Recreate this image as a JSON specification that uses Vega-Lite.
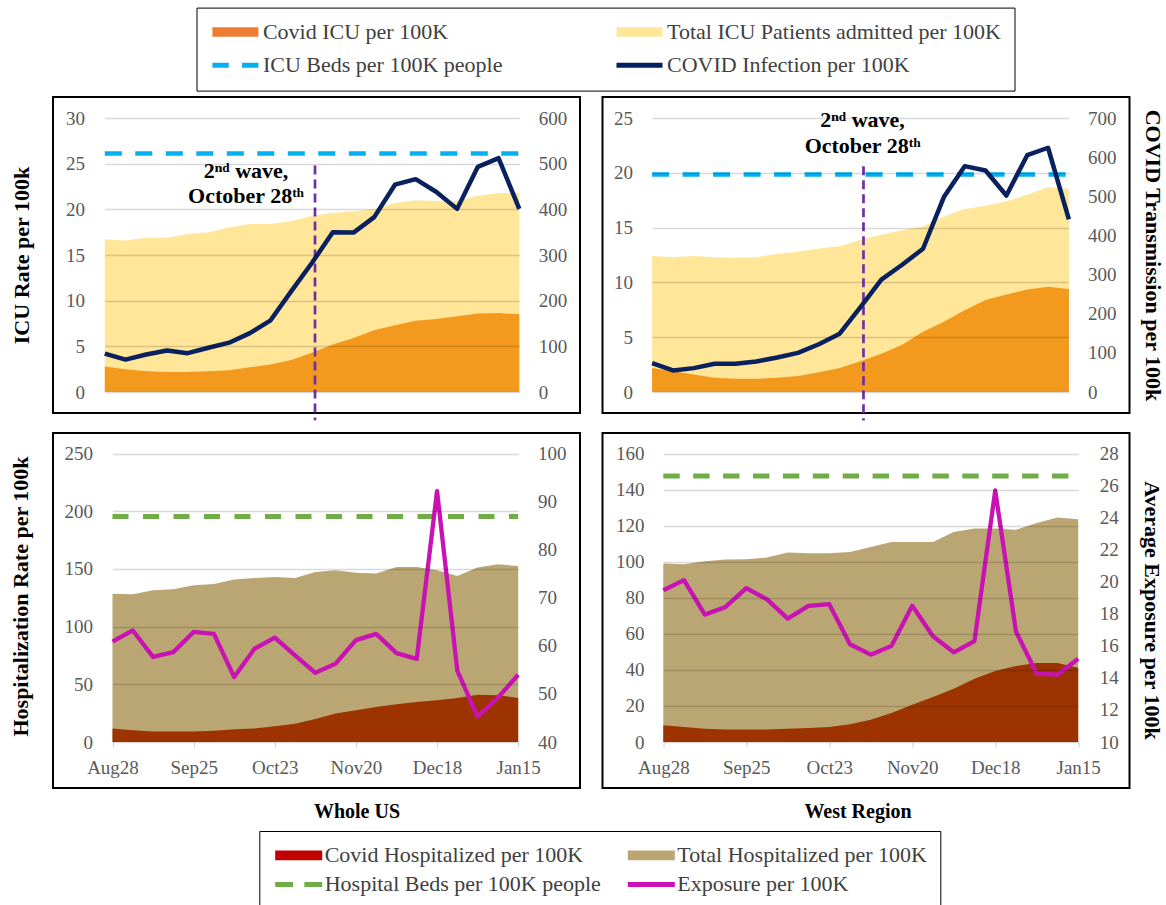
{
  "$schema": "https://vega.github.io/schema/vega-lite/v6.json",
  "padding": {"left": 8, "top": 6, "right": 0, "bottom": -5},
  "datasets": {
    "d": [
      {"date": "2020-08-28T00:00:00", "us_icu_covid": 2.8, "us_icu_total": 16.7, "us_icu_beds": 26.1, "us_infection": 84, "west_icu_covid": 2.2, "west_icu_total": 12.4, "west_icu_beds": 19.85, "west_infection": 74, "us_hosp_covid": 11.6, "us_hosp_total": 128.6, "us_hosp_beds": 195.5, "us_exposure": 60.9, "west_hosp_covid": 9.25, "west_hosp_total": 99.0, "west_hosp_beds": 147.6, "west_exposure": 19.47},
      {"date": "2020-09-04T00:00:00", "us_icu_covid": 2.5, "us_icu_total": 16.6, "us_icu_beds": 26.1, "us_infection": 71, "west_icu_covid": 1.9, "west_icu_total": 12.3, "west_icu_beds": 19.85, "west_infection": 55, "us_hosp_covid": 10.1, "us_hosp_total": 128.0, "us_hosp_beds": 195.5, "us_exposure": 63.2, "west_hosp_covid": 8.3, "west_hosp_total": 98.6, "west_hosp_beds": 147.6, "west_exposure": 20.1},
      {"date": "2020-09-11T00:00:00", "us_icu_covid": 2.26, "us_icu_total": 16.9, "us_icu_beds": 26.1, "us_infection": 82, "west_icu_covid": 1.6, "west_icu_total": 12.4, "west_icu_beds": 19.85, "west_infection": 61, "us_hosp_covid": 9.2, "us_hosp_total": 131.5, "us_hosp_beds": 195.5, "us_exposure": 57.7, "west_hosp_covid": 7.4, "west_hosp_total": 100.3, "west_hosp_beds": 147.6, "west_exposure": 17.95},
      {"date": "2020-09-18T00:00:00", "us_icu_covid": 2.2, "us_icu_total": 16.9, "us_icu_beds": 26.1, "us_infection": 91, "west_icu_covid": 1.3, "west_icu_total": 12.3, "west_icu_beds": 19.85, "west_infection": 72, "us_hosp_covid": 9.2, "us_hosp_total": 132.4, "us_hosp_beds": 195.5, "us_exposure": 58.7, "west_hosp_covid": 7.0, "west_hosp_total": 101.2, "west_hosp_beds": 147.6, "west_exposure": 18.43},
      {"date": "2020-09-25T00:00:00", "us_icu_covid": 2.2, "us_icu_total": 17.3, "us_icu_beds": 26.1, "us_infection": 85, "west_icu_covid": 1.2, "west_icu_total": 12.25, "west_icu_beds": 19.85, "west_infection": 72, "us_hosp_covid": 9.2, "us_hosp_total": 135.8, "us_hosp_beds": 195.5, "us_exposure": 62.9, "west_hosp_covid": 7.0, "west_hosp_total": 101.4, "west_hosp_beds": 147.6, "west_exposure": 19.6},
      {"date": "2020-10-02T00:00:00", "us_icu_covid": 2.26, "us_icu_total": 17.5, "us_icu_beds": 26.1, "us_infection": 97, "west_icu_covid": 1.2, "west_icu_total": 12.3, "west_icu_beds": 19.85, "west_infection": 78, "us_hosp_covid": 9.8, "us_hosp_total": 137.0, "us_hosp_beds": 195.5, "us_exposure": 62.5, "west_hosp_covid": 7.0, "west_hosp_total": 102.3, "west_hosp_beds": 147.6, "west_exposure": 18.9},
      {"date": "2020-10-09T00:00:00", "us_icu_covid": 2.37, "us_icu_total": 18.0, "us_icu_beds": 26.1, "us_infection": 108, "west_icu_covid": 1.3, "west_icu_total": 12.6, "west_icu_beds": 19.85, "west_infection": 88, "us_hosp_covid": 11.0, "us_hosp_total": 140.8, "us_hosp_beds": 195.5, "us_exposure": 53.5, "west_hosp_covid": 7.4, "west_hosp_total": 105.1, "west_hosp_beds": 147.6, "west_exposure": 17.7},
      {"date": "2020-10-16T00:00:00", "us_icu_covid": 2.7, "us_icu_total": 18.4, "us_icu_beds": 26.1, "us_infection": 129, "west_icu_covid": 1.45, "west_icu_total": 12.8, "west_icu_beds": 19.85, "west_infection": 100, "us_hosp_covid": 11.8, "us_hosp_total": 142.2, "us_hosp_beds": 195.5, "us_exposure": 59.4, "west_hosp_covid": 7.8, "west_hosp_total": 104.7, "west_hosp_beds": 147.6, "west_exposure": 18.5},
      {"date": "2020-10-23T00:00:00", "us_icu_covid": 3.0, "us_icu_total": 18.4, "us_icu_beds": 26.1, "us_infection": 157, "west_icu_covid": 1.8, "west_icu_total": 13.1, "west_icu_beds": 19.85, "west_infection": 122, "us_hosp_covid": 13.6, "us_hosp_total": 143.0, "us_hosp_beds": 195.5, "us_exposure": 61.7, "west_hosp_covid": 8.3, "west_hosp_total": 104.7, "west_hosp_beds": 147.6, "west_exposure": 18.6},
      {"date": "2020-10-30T00:00:00", "us_icu_covid": 3.5, "us_icu_total": 18.7, "us_icu_beds": 26.1, "us_infection": 221, "west_icu_covid": 2.2, "west_icu_total": 13.3, "west_icu_beds": 19.85, "west_infection": 149, "us_hosp_covid": 15.9, "us_hosp_total": 142.2, "us_hosp_beds": 195.5, "us_exposure": 58.0, "west_hosp_covid": 9.8, "west_hosp_total": 105.4, "west_hosp_beds": 147.6, "west_exposure": 16.1},
      {"date": "2020-11-06T00:00:00", "us_icu_covid": 4.3, "us_icu_total": 19.3, "us_icu_beds": 26.1, "us_infection": 283, "west_icu_covid": 2.8, "west_icu_total": 13.9, "west_icu_beds": 19.85, "west_infection": 217, "us_hosp_covid": 19.9, "us_hosp_total": 147.4, "us_hosp_beds": 195.5, "us_exposure": 54.4, "west_hosp_covid": 12.4, "west_hosp_total": 108.2, "west_hosp_beds": 147.6, "west_exposure": 15.45},
      {"date": "2020-11-13T00:00:00", "us_icu_covid": 5.2, "us_icu_total": 19.6, "us_icu_beds": 26.1, "us_infection": 350, "west_icu_covid": 3.5, "west_icu_total": 14.35, "west_icu_beds": 19.85, "west_infection": 287, "us_hosp_covid": 24.6, "us_hosp_total": 148.8, "us_hosp_beds": 195.5, "us_exposure": 56.3, "west_hosp_covid": 16.1, "west_hosp_total": 111.0, "west_hosp_beds": 147.6, "west_exposure": 16.0},
      {"date": "2020-11-20T00:00:00", "us_icu_covid": 5.9, "us_icu_total": 19.8, "us_icu_beds": 26.1, "us_infection": 349, "west_icu_covid": 4.3, "west_icu_total": 14.75, "west_icu_beds": 19.85, "west_infection": 325, "us_hosp_covid": 27.5, "us_hosp_total": 146.8, "us_hosp_beds": 195.5, "us_exposure": 61.2, "west_hosp_covid": 20.7, "west_hosp_total": 111.0, "west_hosp_beds": 147.6, "west_exposure": 18.5},
      {"date": "2020-11-27T00:00:00", "us_icu_covid": 6.75, "us_icu_total": 20.0, "us_icu_beds": 26.1, "us_infection": 383, "west_icu_covid": 5.5, "west_icu_total": 15.1, "west_icu_beds": 19.85, "west_infection": 366, "us_hosp_covid": 30.3, "us_hosp_total": 146.0, "us_hosp_beds": 195.5, "us_exposure": 62.5, "west_hosp_covid": 25.0, "west_hosp_total": 111.0, "west_hosp_beds": 147.6, "west_exposure": 16.6},
      {"date": "2020-12-04T00:00:00", "us_icu_covid": 7.3, "us_icu_total": 20.7, "us_icu_beds": 26.1, "us_infection": 454, "west_icu_covid": 6.4, "west_icu_total": 16.0, "west_icu_beds": 19.85, "west_infection": 498, "us_hosp_covid": 32.7, "us_hosp_total": 151.7, "us_hosp_beds": 195.5, "us_exposure": 58.5, "west_hosp_covid": 29.6, "west_hosp_total": 116.5, "west_hosp_beds": 147.6, "west_exposure": 15.6},
      {"date": "2020-12-11T00:00:00", "us_icu_covid": 7.8, "us_icu_total": 21.0, "us_icu_beds": 26.1, "us_infection": 466, "west_icu_covid": 7.45, "west_icu_total": 16.7, "west_icu_beds": 19.85, "west_infection": 577, "us_hosp_covid": 34.7, "us_hosp_total": 151.7, "us_hosp_beds": 195.5, "us_exposure": 57.3, "west_hosp_covid": 35.1, "west_hosp_total": 118.4, "west_hosp_beds": 147.6, "west_exposure": 16.3},
      {"date": "2020-12-18T00:00:00", "us_icu_covid": 8.0, "us_icu_total": 20.9, "us_icu_beds": 26.1, "us_infection": 438, "west_icu_covid": 8.4, "west_icu_total": 17.0, "west_icu_beds": 19.85, "west_infection": 566, "us_hosp_covid": 36.1, "us_hosp_total": 148.8, "us_hosp_beds": 195.5, "us_exposure": 92.2, "west_hosp_covid": 39.4, "west_hosp_total": 118.4, "west_hosp_beds": 147.6, "west_exposure": 25.7},
      {"date": "2020-12-25T00:00:00", "us_icu_covid": 8.3, "us_icu_total": 20.9, "us_icu_beds": 26.1, "us_infection": 401, "west_icu_covid": 8.9, "west_icu_total": 17.4, "west_icu_beds": 19.85, "west_infection": 502, "us_hosp_covid": 38.2, "us_hosp_total": 143.9, "us_hosp_beds": 195.5, "us_exposure": 54.8, "west_hosp_covid": 42.2, "west_hosp_total": 117.8, "west_hosp_beds": 147.6, "west_exposure": 16.9},
      {"date": "2021-01-01T00:00:00", "us_icu_covid": 8.6, "us_icu_total": 21.5, "us_icu_beds": 26.1, "us_infection": 493, "west_icu_covid": 9.35, "west_icu_total": 18.0, "west_icu_beds": 19.85, "west_infection": 605, "us_hosp_covid": 41.0, "us_hosp_total": 151.2, "us_hosp_beds": 195.5, "us_exposure": 45.3, "west_hosp_covid": 43.8, "west_hosp_total": 121.5, "west_hosp_beds": 147.6, "west_exposure": 14.27},
      {"date": "2021-01-08T00:00:00", "us_icu_covid": 8.65, "us_icu_total": 21.8, "us_icu_beds": 26.1, "us_infection": 512, "west_icu_covid": 9.6, "west_icu_total": 18.7, "west_icu_beds": 19.85, "west_infection": 624, "us_hosp_covid": 40.5, "us_hosp_total": 154.0, "us_hosp_beds": 195.5, "us_exposure": 49.2, "west_hosp_covid": 43.8, "west_hosp_total": 124.5, "west_hosp_beds": 147.6, "west_exposure": 14.2},
      {"date": "2021-01-15T00:00:00", "us_icu_covid": 8.5, "us_icu_total": 21.8, "us_icu_beds": 26.1, "us_infection": 401, "west_icu_covid": 9.4, "west_icu_total": 18.55, "west_icu_beds": 19.85, "west_infection": 441, "us_hosp_covid": 38.2, "us_hosp_total": 152.6, "us_hosp_beds": 195.5, "us_exposure": 54.0, "west_hosp_covid": 41.2, "west_hosp_total": 123.6, "west_hosp_beds": 147.6, "west_exposure": 15.2}
    ]
  },
  "columns": 2,
  "spacing": {"row": 20, "column": 22.5},
  "bounds": "flush",
  "resolve": {"scale": {"color": "independent", "shape": "independent"}},
  "concat": [
    {
      "width": 527, "height": 316,
      "data": {"name": "d"},
      "layer": [
        {"mark": {"type": "area", "opacity": 1, "color": "#FFE699"},
         "encoding": {
           "x": {"field": "date", "type": "temporal", "scale": {"domain": [{"year": 2020, "month": 8, "date": 28}, {"year": 2021, "month": 1, "date": 15}], "range": [51.8, 466.3], "nice": false}, "axis": null},
           "y": {"field": "us_icu_total", "type": "quantitative", "scale": {"domain": [0, 30], "range": [295, 21], "nice": false},
                 "axis": {"orient": "left", "values": [0, 5, 10, 15, 20, 25, 30], "grid": true, "gridColor": "#000000", "gridOpacity": 0.15, "gridWidth": 1.3, "zindex": 1, "offset": -31.5, "title": "ICU  Rate per 100k", "titleAngle": 270, "titleX": -63, "titleY": 158, "titleAlign": "center", "titleBaseline": "middle"}}
         }},
        {"mark": {"type": "area", "opacity": 1, "color": "#F39A1E"},
         "encoding": {
           "x": {"field": "date", "type": "temporal", "scale": {"domain": [{"year": 2020, "month": 8, "date": 28}, {"year": 2021, "month": 1, "date": 15}], "range": [51.8, 466.3], "nice": false}, "axis": null},
           "y": {"field": "us_icu_covid", "type": "quantitative", "scale": {"domain": [0, 30], "range": [295, 21], "nice": false}, "axis": null}
         }},
        {"mark": {"type": "line", "strokeWidth": 4.5, "strokeDash": [17, 13.5], "color": "#00B0F0"},
         "encoding": {
           "x": {"field": "date", "type": "temporal", "scale": {"domain": [{"year": 2020, "month": 8, "date": 28}, {"year": 2021, "month": 1, "date": 15}], "range": [51.8, 466.3], "nice": false}, "axis": null},
           "y": {"field": "us_icu_beds", "type": "quantitative", "scale": {"domain": [0, 30], "range": [295, 21], "nice": false}, "axis": null}
         }},
        {"data": {"values": [{"event": "2nd wave"}]},
         "mark": {"type": "rule", "color": "#7030A0", "strokeWidth": 2.7, "strokeDash": [9, 5]},
         "encoding": {
           "x": {"datum": {"year": 2020, "month": 11, "date": 7}, "type": "temporal", "scale": {"domain": [{"year": 2020, "month": 8, "date": 28}, {"year": 2021, "month": 1, "date": 15}], "range": [51.8, 466.3], "nice": false}, "axis": null},
           "y": {"datum": 24.8, "type": "quantitative", "scale": {"domain": [0, 30], "range": [295, 21], "nice": false}, "axis": null},
           "y2": {"datum": -3.1}
         }},
        {"data": {"values": [{"label": "2ⁿᵈ wave,\nOctober 28ᵗʰ"}]},
         "mark": {"type": "text", "font": "Liberation Serif", "fontSize": 22, "fontWeight": "bold", "color": "black", "align": "center", "baseline": "middle", "lineBreak": "\n", "lineHeight": 24.5},
         "encoding": {
           "x": {"datum": {"year": 2020, "month": 10, "date": 14, "hours": 17}, "type": "temporal", "scale": {"domain": [{"year": 2020, "month": 8, "date": 28}, {"year": 2021, "month": 1, "date": 15}], "range": [51.8, 466.3], "nice": false}, "axis": null},
           "y": {"datum": 24.17, "type": "quantitative", "scale": {"domain": [0, 30], "range": [295, 21], "nice": false}, "axis": null},
           "text": {"field": "label", "type": "nominal"}
         }},
        {"mark": {"type": "line", "strokeWidth": 4.5, "strokeJoin": "round", "color": "#0A2160"},
         "encoding": {
           "x": {"field": "date", "type": "temporal", "scale": {"domain": [{"year": 2020, "month": 8, "date": 28}, {"year": 2021, "month": 1, "date": 15}], "range": [51.8, 466.3], "nice": false}, "axis": null},
           "y": {"field": "us_infection", "type": "quantitative", "scale": {"domain": [0, 600], "range": [295, 21], "nice": false},
                 "axis": {"orient": "right", "values": [0, 100, 200, 300, 400, 500, 600], "offset": -41.8, "title": null}}
         }},
        {"data": {"values": []},
         "mark": {"type": "point", "filled": false, "strokeWidth": 5},
         "encoding": {
           "color": {"field": "series", "type": "nominal",
                     "scale": {"domain": ["Covid ICU per 100K", "Total ICU Patients admitted per 100K", "ICU Beds per 100K people", "COVID Infection per 100K"], "range": ["#ED7D31", "#FFE699", "#00B0F0", "#002060"]},
                     "legend": {
                       "title": null, "orient": "none", "legendX": 143.5, "legendY": -89.4, "direction": "horizontal",
                       "columns": 2, "columnPadding": 111.1, "rowPadding": 11.3, "padding": 13.4,
                       "strokeColor": "black",
                       "symbolSize": 2116, "symbolStrokeWidth": 5, "symbolOffset": 0, "symbolOpacity": 1, "symbolFillColor": "transparent", "clipHeight": 22,
                       "labelFont": "Liberation Serif", "labelFontSize": 22, "labelColor": "#404040", "labelOffset": 2, "labelLimit": 800,
                       "encode": {"legend": {"strokeWidth": {"value": 2.5}}}
                     }},
           "shape": {"field": "series", "type": "nominal",
                     "scale": {"domain": ["Covid ICU per 100K", "Total ICU Patients admitted per 100K", "ICU Beds per 100K people", "COVID Infection per 100K"],
                               "range": ["M-1,-0.1H1M-1,0H1M-1,0.1H1", "M-1,-0.1H1M-1,0H1M-1,0.1H1", "M-1,0H-0.29M0.29,0H1", "M-1,0H1"]}}
         }}
      ],
      "resolve": {"scale": {"y": "independent"}}
    },
    {
      "width": 527, "height": 316,
      "data": {"name": "d"},
      "layer": [
        {"mark": {"type": "area", "opacity": 1, "color": "#FFE699"},
         "encoding": {
           "x": {"field": "date", "type": "temporal", "scale": {"domain": [{"year": 2020, "month": 8, "date": 28}, {"year": 2021, "month": 1, "date": 15}], "range": [49.6, 466.4], "nice": false}, "axis": null},
           "y": {"field": "west_icu_total", "type": "quantitative", "scale": {"domain": [0, 25], "range": [295, 21], "nice": false},
                 "axis": {"orient": "left", "values": [0, 5, 10, 15, 20, 25], "grid": true, "gridColor": "#000000", "gridOpacity": 0.15, "gridWidth": 1.3, "zindex": 1, "offset": -30, "title": null}}
         }},
        {"mark": {"type": "area", "opacity": 1, "color": "#F39A1E"},
         "encoding": {
           "x": {"field": "date", "type": "temporal", "scale": {"domain": [{"year": 2020, "month": 8, "date": 28}, {"year": 2021, "month": 1, "date": 15}], "range": [49.6, 466.4], "nice": false}, "axis": null},
           "y": {"field": "west_icu_covid", "type": "quantitative", "scale": {"domain": [0, 25], "range": [295, 21], "nice": false}, "axis": null}
         }},
        {"mark": {"type": "line", "strokeWidth": 4.5, "strokeDash": [17, 13.5], "color": "#00B0F0"},
         "encoding": {
           "x": {"field": "date", "type": "temporal", "scale": {"domain": [{"year": 2020, "month": 8, "date": 28}, {"year": 2021, "month": 1, "date": 15}], "range": [49.6, 466.4], "nice": false}, "axis": null},
           "y": {"field": "west_icu_beds", "type": "quantitative", "scale": {"domain": [0, 25], "range": [295, 21], "nice": false}, "axis": null}
         }},
        {"data": {"values": [{"event": "2nd wave"}]},
         "mark": {"type": "rule", "color": "#7030A0", "strokeWidth": 2.7, "strokeDash": [9, 5]},
         "encoding": {
           "x": {"datum": {"year": 2020, "month": 11, "date": 7}, "type": "temporal", "scale": {"domain": [{"year": 2020, "month": 8, "date": 28}, {"year": 2021, "month": 1, "date": 15}], "range": [49.6, 466.4], "nice": false}, "axis": null},
           "y": {"datum": 20.6, "type": "quantitative", "scale": {"domain": [0, 25], "range": [295, 21], "nice": false}, "axis": null},
           "y2": {"datum": -2.6}
         }},
        {"data": {"values": [{"label": "2ⁿᵈ wave,\nOctober 28ᵗʰ"}]},
         "mark": {"type": "text", "font": "Liberation Serif", "fontSize": 22, "fontWeight": "bold", "color": "black", "align": "center", "baseline": "middle", "lineBreak": "\n", "lineHeight": 26},
         "encoding": {
           "x": {"datum": {"year": 2020, "month": 11, "date": 6, "hours": 17}, "type": "temporal", "scale": {"domain": [{"year": 2020, "month": 8, "date": 28}, {"year": 2021, "month": 1, "date": 15}], "range": [49.6, 466.4], "nice": false}, "axis": null},
           "y": {"datum": 24.79, "type": "quantitative", "scale": {"domain": [0, 25], "range": [295, 21], "nice": false}, "axis": null},
           "text": {"field": "label", "type": "nominal"}
         }},
        {"mark": {"type": "line", "strokeWidth": 4.5, "strokeJoin": "round", "color": "#0A2160"},
         "encoding": {
           "x": {"field": "date", "type": "temporal", "scale": {"domain": [{"year": 2020, "month": 8, "date": 28}, {"year": 2021, "month": 1, "date": 15}], "range": [49.6, 466.4], "nice": false}, "axis": null},
           "y": {"field": "west_infection", "type": "quantitative", "scale": {"domain": [0, 700], "range": [295, 21], "nice": false},
                 "axis": {"orient": "right", "values": [0, 100, 200, 300, 400, 500, 600, 700], "offset": -42, "title": "COVID Transmission per 100k", "titleAngle": 90, "titleX": 65, "titleY": 158, "titleAlign": "center", "titleBaseline": "middle"}}
         }}
      ],
      "resolve": {"scale": {"y": "independent"}}
    },
    {
      "width": 527, "height": 355,
      "data": {"name": "d"},
      "layer": [
        {"mark": {"type": "area", "opacity": 1, "color": "#B9A673"},
         "encoding": {
           "x": {"field": "date", "type": "temporal", "scale": {"domain": [{"year": 2020, "month": 8, "date": 28}, {"year": 2021, "month": 1, "date": 15}], "range": [59.5, 465.2], "nice": false},
                 "axis": {"orient": "bottom", "values": [{"year": 2020, "month": 8, "date": 28}, {"year": 2020, "month": 9, "date": 25}, {"year": 2020, "month": 10, "date": 23}, {"year": 2020, "month": 11, "date": 20}, {"year": 2020, "month": 12, "date": 18}, {"year": 2021, "month": 1, "date": 15}], "format": "%b%d", "offset": -46, "ticks": true, "tickSize": 5, "tickColor": "#D9D9D9", "tickWidth": 1.3, "labelPadding": 20, "labelBaseline": "middle", "labelFlush": false, "labelOverlap": false, "title": "Whole US", "titleX": 303.5, "titleY": 69, "titleAngle": 0, "titleFontSize": 20, "titleAlign": "center", "titleBaseline": "middle"}},
           "y": {"field": "us_hosp_total", "type": "quantitative", "scale": {"domain": [0, 250], "range": [309, 20.6], "nice": false},
                 "axis": {"orient": "left", "values": [0, 50, 100, 150, 200, 250], "grid": true, "gridColor": "#000000", "gridOpacity": 0.15, "gridWidth": 1.3, "zindex": 1, "offset": -39.5, "title": "Hospitalization Rate per 100k", "titleAngle": 270, "titleX": -72.5, "titleY": 163, "titleAlign": "center", "titleBaseline": "middle"}}
         }},
        {"mark": {"type": "area", "opacity": 1, "color": "#9C3300"},
         "encoding": {
           "x": {"field": "date", "type": "temporal", "scale": {"domain": [{"year": 2020, "month": 8, "date": 28}, {"year": 2021, "month": 1, "date": 15}], "range": [59.5, 465.2], "nice": false}},
           "y": {"field": "us_hosp_covid", "type": "quantitative", "scale": {"domain": [0, 250], "range": [309, 20.6], "nice": false}, "axis": null}
         }},
        {"mark": {"type": "line", "strokeWidth": 5, "strokeDash": [16, 14.5], "color": "#70AD47"},
         "encoding": {
           "x": {"field": "date", "type": "temporal", "scale": {"domain": [{"year": 2020, "month": 8, "date": 28}, {"year": 2021, "month": 1, "date": 15}], "range": [59.5, 465.2], "nice": false}},
           "y": {"field": "us_hosp_beds", "type": "quantitative", "scale": {"domain": [0, 250], "range": [309, 20.6], "nice": false}, "axis": null}
         }},
        {"mark": {"type": "line", "strokeWidth": 4.3, "strokeJoin": "round", "color": "#C912B3"},
         "encoding": {
           "x": {"field": "date", "type": "temporal", "scale": {"domain": [{"year": 2020, "month": 8, "date": 28}, {"year": 2021, "month": 1, "date": 15}], "range": [59.5, 465.2], "nice": false}},
           "y": {"field": "us_exposure", "type": "quantitative", "scale": {"domain": [40, 100], "range": [309, 20.6], "nice": false},
                 "axis": {"orient": "right", "values": [40, 50, 60, 70, 80, 90, 100], "offset": -42.5, "title": null}}
         }},
        {"data": {"values": []},
         "mark": {"type": "point", "filled": false, "strokeWidth": 5},
         "encoding": {
           "color": {"field": "series", "type": "nominal",
                     "scale": {"domain": ["Covid Hospitalized per 100K", "Total Hospitalized per 100K", "Hospital Beds per 100K people", "Exposure per 100K"], "range": ["#C00000", "#BBA673", "#70AD47", "#CC10BB"]},
                     "legend": {
                       "title": null, "orient": "none", "legendX": 206.3, "legendY": 398, "direction": "horizontal",
                       "columns": 2, "columnPadding": 23.6, "rowPadding": 7, "padding": 13.4,
                       "strokeColor": "black",
                       "symbolSize": 2209, "symbolStrokeWidth": 5, "symbolOffset": 0, "symbolOpacity": 1, "symbolFillColor": "transparent", "clipHeight": 22,
                       "labelFont": "Liberation Serif", "labelFontSize": 22, "labelColor": "#404040", "labelOffset": 0, "labelLimit": 800,
                       "encode": {"legend": {"strokeWidth": {"value": 2}}}
                     }},
           "shape": {"field": "series", "type": "nominal",
                     "scale": {"domain": ["Covid Hospitalized per 100K", "Total Hospitalized per 100K", "Hospital Beds per 100K people", "Exposure per 100K"],
                               "range": ["M-1,-0.1H1M-1,0H1M-1,0.1H1", "M-1,-0.1H1M-1,0H1M-1,0.1H1", "M-1,0H-0.24M0.24,0H1", "M-1,0H1"]}}
         }}
      ],
      "resolve": {"scale": {"y": "independent"}}
    },
    {
      "width": 527, "height": 355,
      "data": {"name": "d"},
      "layer": [
        {"mark": {"type": "area", "opacity": 1, "color": "#B9A673"},
         "encoding": {
           "x": {"field": "date", "type": "temporal", "scale": {"domain": [{"year": 2020, "month": 8, "date": 28}, {"year": 2021, "month": 1, "date": 15}], "range": [60.8, 475.7], "nice": false},
                 "axis": {"orient": "bottom", "values": [{"year": 2020, "month": 8, "date": 28}, {"year": 2020, "month": 9, "date": 25}, {"year": 2020, "month": 10, "date": 23}, {"year": 2020, "month": 11, "date": 20}, {"year": 2020, "month": 12, "date": 18}, {"year": 2021, "month": 1, "date": 15}], "format": "%b%d", "offset": -46, "ticks": true, "tickSize": 5, "tickColor": "#D9D9D9", "tickWidth": 1.3, "labelPadding": 20, "labelBaseline": "middle", "labelFlush": false, "labelOverlap": false, "title": "West Region", "titleX": 255, "titleY": 69, "titleAngle": 0, "titleFontSize": 20, "titleAlign": "center", "titleBaseline": "middle"}},
           "y": {"field": "west_hosp_total", "type": "quantitative", "scale": {"domain": [0, 160], "range": [309, 20.6], "nice": false},
                 "axis": {"orient": "left", "values": [0, 20, 40, 60, 80, 100, 120, 140, 160], "grid": true, "gridColor": "#000000", "gridOpacity": 0.15, "gridWidth": 1.3, "zindex": 1, "offset": -41.5, "title": null}}
         }},
        {"mark": {"type": "area", "opacity": 1, "color": "#9C3300"},
         "encoding": {
           "x": {"field": "date", "type": "temporal", "scale": {"domain": [{"year": 2020, "month": 8, "date": 28}, {"year": 2021, "month": 1, "date": 15}], "range": [60.8, 475.7], "nice": false}},
           "y": {"field": "west_hosp_covid", "type": "quantitative", "scale": {"domain": [0, 160], "range": [309, 20.6], "nice": false}, "axis": null}
         }},
        {"mark": {"type": "line", "strokeWidth": 5, "strokeDash": [16.4, 13.5], "color": "#70AD47"},
         "encoding": {
           "x": {"field": "date", "type": "temporal", "scale": {"domain": [{"year": 2020, "month": 8, "date": 28}, {"year": 2021, "month": 1, "date": 15}], "range": [60.8, 475.7], "nice": false}},
           "y": {"field": "west_hosp_beds", "type": "quantitative", "scale": {"domain": [0, 160], "range": [309, 20.6], "nice": false}, "axis": null}
         }},
        {"mark": {"type": "line", "strokeWidth": 4.3, "strokeJoin": "round", "color": "#C912B3"},
         "encoding": {
           "x": {"field": "date", "type": "temporal", "scale": {"domain": [{"year": 2020, "month": 8, "date": 28}, {"year": 2021, "month": 1, "date": 15}], "range": [60.8, 475.7], "nice": false}},
           "y": {"field": "west_exposure", "type": "quantitative", "scale": {"domain": [10, 28], "range": [309, 20.6], "nice": false},
                 "axis": {"orient": "right", "values": [10, 12, 14, 16, 18, 20, 22, 24, 26, 28], "offset": -30.3, "title": "Average Exposure  per 100k", "titleAngle": 90, "titleX": 52.3, "titleY": 177, "titleAlign": "center", "titleBaseline": "middle"}}
         }}
      ],
      "resolve": {"scale": {"y": "independent"}}
    }
  ],
  "config": {
    "font": "Liberation Serif",
    "view": {"stroke": "black", "strokeWidth": 2},
    "axis": {
      "labelFont": "Liberation Serif", "labelFontSize": 19, "labelColor": "#595959",
      "titleFont": "Liberation Serif", "titleFontSize": 22, "titleFontWeight": "bold", "titleColor": "black",
      "domain": false, "ticks": false, "tickSize": 0, "grid": false, "labelPadding": 0
    }
  }
}
